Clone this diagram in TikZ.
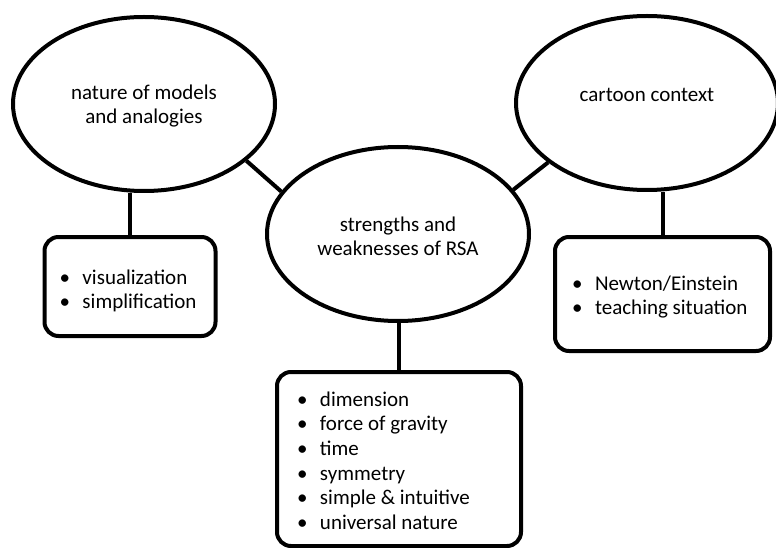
\documentclass[tikz,border=0pt]{standalone}
\usepackage{fontspec}
\setmainfont{Carlito}
\usetikzlibrary{positioning,shapes.geometric}

\newcommand{\litem}[1]{\makebox[23pt][l]{\textbullet}#1}
\newcommand{\blist}[2]{\spaceskip=0pt\xspaceskip=0pt\raisebox{#1}[\height][\depth]{\begin{tabular}{@{}l@{}}#2\end{tabular}}}
\newcommand{\btext}[2]{\raisebox{#1}[\height][\depth]{\begin{tabular}{@{}c@{}}#2\end{tabular}}}

\begin{document}
\begin{tikzpicture}[x=1pt,y=1pt,on grid,
    font=\fontsize{21}{24.7}\selectfont,
    bubble/.style={draw,ellipse,line width=4pt,minimum width=262pt,minimum height=174pt,inner sep=0pt},
    listbox/.style={draw,rounded corners=14pt,line width=4pt,align=left},
    link/.style={line width=4pt}]
    \useasboundingbox (0,0) rectangle (776,-548);
    \node[bubble] (RSA) at (398,-234) {\btext{-4.5pt}{strengths and\\weaknesses of RSA}};
    \node[bubble, above left=130pt and 254pt of RSA] (Lm) {\btext{-2.5pt}{nature of models\\and analogies}};
    \node[bubble, above right=131pt and 249pt of RSA] (Rm) {\btext{6pt}{cartoon context}};
    \node[listbox, text width=141pt, inner xsep=15pt, minimum height=99pt, below left=182.5pt and 14pt of Lm] (Lbox)
        {\blist{-5pt}{\litem{visualization}\\\litem{simplification}}};
    \node[listbox, text width=181pt, inner xsep=17pt, minimum height=114pt, below right=191pt and 15.5pt of Rm] (Rbox)
        {\blist{-3.5pt}{\litem{Newton/Einstein}\\\litem{teaching situation}}};
    \node[listbox, text width=204pt, inner xsep=20pt, minimum height=174pt, below right=225pt and 1pt of RSA] (Cbox)
        {\blist{-4pt}{\litem{dimension}\\\litem{force of gravity}\\\litem{time}\\\litem{symmetry}\\\litem{simple \& intuitive}\\\litem{universal nature}}};
    \draw[link] (Lm.-29) -- (RSA.160);
    \draw[link] (Rm.211) -- (RSA.21);
    \draw[link] (Lbox.north) -- (Lbox.north |- Lm.south);
    \draw[link] (Rbox.north) -- (Rbox.north |- Rm.south);
    \draw[link] (Cbox.north) -- (Cbox.north |- RSA.south);
\end{tikzpicture}
\end{document}
